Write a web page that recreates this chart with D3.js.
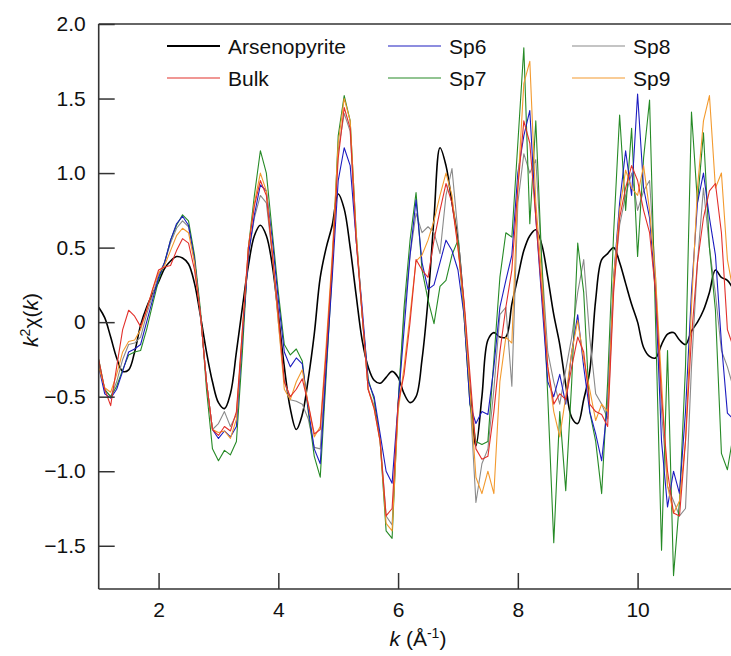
<!DOCTYPE html>
<html><head><meta charset="utf-8">
<script src="https://cdn.jsdelivr.net/npm/d3@7"></script>
<style>
html,body{margin:0;padding:0;background:#fff;}
svg{display:block;font-family:"Liberation Sans",Arial,sans-serif;}
</style></head>
<body><svg id="c" width="731" height="656"></svg>
<script>
const kValues = [1.0,1.1,1.2,1.3,1.4,1.5,1.6,1.7,1.8,1.9,2.0,2.1,2.2,2.3,2.4,2.5,2.6,2.7,2.8,2.9,3.0,3.1,3.2,3.3,3.4,3.5,3.6,3.7,3.8,3.9,4.0,4.1,4.2,4.3,4.4,4.5,4.6,4.7,4.8,4.9,5.0,5.1,5.2,5.3,5.4,5.5,5.6,5.7,5.8,5.9,6.0,6.1,6.2,6.3,6.4,6.5,6.6,6.7,6.8,6.9,7.0,7.1,7.2,7.3,7.4,7.5,7.6,7.7,7.8,7.9,8.0,8.1,8.2,8.3,8.4,8.5,8.6,8.7,8.8,8.9,9.0,9.1,9.2,9.3,9.4,9.5,9.6,9.7,9.8,9.9,10.0,10.1,10.2,10.3,10.4,10.5,10.6,10.7,10.8,10.9,11.0,11.1,11.2,11.3,11.4,11.5,11.6];

const arsenopyrite = [0.10,0.03,-0.10,-0.24,-0.33,-0.32,-0.20,-0.02,0.10,0.19,0.27,0.36,0.41,0.44,0.43,0.39,0.26,0.04,-0.20,-0.40,-0.54,-0.58,-0.48,-0.20,0.10,0.38,0.58,0.65,0.58,0.38,0.05,-0.30,-0.58,-0.72,-0.62,-0.38,-0.08,0.30,0.50,0.65,0.86,0.76,0.50,0.18,-0.12,-0.30,-0.39,-0.41,-0.37,-0.33,-0.37,-0.48,-0.54,-0.50,-0.25,0.15,0.70,1.17,1.05,0.80,0.55,0.10,-0.45,-0.83,-0.50,-0.12,-0.07,-0.10,-0.10,0.12,0.30,0.48,0.58,0.62,0.52,0.30,0.05,-0.15,-0.42,-0.64,-0.68,-0.52,-0.33,0.15,0.42,0.46,0.50,0.40,0.26,0.12,0.00,-0.17,-0.23,-0.24,-0.15,-0.08,-0.07,-0.12,-0.15,-0.06,0.00,0.08,0.20,0.35,0.30,0.28,0.22];

const bulk = [-0.25,-0.45,-0.56,-0.30,-0.05,0.08,0.04,-0.03,0.08,0.22,0.35,0.37,0.38,0.48,0.56,0.53,0.35,0.05,-0.40,-0.72,-0.76,-0.70,-0.73,-0.60,-0.05,0.50,0.78,0.95,0.85,0.45,0.05,-0.40,-0.50,-0.45,-0.38,-0.55,-0.75,-0.72,-0.20,0.40,1.10,1.44,1.30,0.55,0.05,-0.45,-0.58,-0.80,-1.30,-1.25,-0.55,-0.35,0.00,0.42,0.35,0.30,0.55,0.75,0.93,0.80,0.50,0.15,-0.35,-0.85,-0.92,-0.90,-0.60,-0.20,0.10,0.35,0.90,1.35,1.20,0.70,0.20,-0.30,-0.55,-0.48,-0.52,-0.30,-0.10,-0.20,-0.55,-0.60,-0.62,-0.70,0.20,0.70,0.90,1.05,0.95,0.75,0.60,0.20,-0.50,-1.00,-1.28,-1.30,-0.80,-0.10,0.40,0.70,0.88,0.93,0.60,-0.05,-0.17];

const sp6 = [-0.30,-0.48,-0.51,-0.45,-0.33,-0.20,-0.18,-0.15,0.00,0.15,0.30,0.40,0.55,0.66,0.71,0.65,0.42,0.05,-0.40,-0.72,-0.78,-0.73,-0.77,-0.70,-0.10,0.45,0.72,0.92,0.88,0.55,0.15,-0.20,-0.30,-0.24,-0.28,-0.58,-0.85,-0.95,-0.30,0.30,0.95,1.17,1.05,0.55,0.10,-0.40,-0.50,-0.75,-1.00,-1.08,-0.55,-0.05,0.45,0.82,0.40,0.22,0.25,0.40,0.55,0.48,0.35,0.05,-0.55,-0.68,-0.60,-0.62,-0.30,0.10,0.28,0.45,1.00,1.25,1.42,0.70,0.15,-0.40,-0.50,-0.35,-0.55,-0.20,0.05,-0.30,-0.60,-0.75,-0.93,-0.55,0.30,0.80,1.15,0.85,1.53,0.90,0.70,0.20,-0.80,-1.24,-1.00,-1.15,-0.60,0.20,0.80,1.00,0.70,0.45,-0.14,-0.61,-0.65];

const sp7 = [-0.25,-0.45,-0.50,-0.43,-0.32,-0.22,-0.20,-0.19,-0.05,0.12,0.28,0.40,0.55,0.65,0.72,0.68,0.45,0.08,-0.45,-0.85,-0.93,-0.86,-0.89,-0.80,-0.20,0.50,0.85,1.15,1.00,0.60,0.20,-0.15,-0.22,-0.18,-0.26,-0.60,-0.90,-1.04,-0.35,0.35,1.25,1.52,1.35,0.60,0.05,-0.38,-0.52,-0.80,-1.40,-1.45,-0.55,0.10,0.55,0.87,0.35,0.15,-0.01,0.24,0.28,0.45,0.55,0.05,-0.55,-0.80,-0.82,-0.80,-0.25,0.30,0.60,0.57,1.20,1.84,0.66,1.35,0.40,-0.50,-1.48,-0.60,-1.13,-0.40,0.53,0.20,-0.60,-0.80,-1.15,-0.40,0.60,1.39,0.75,1.30,0.44,1.10,1.49,0.00,-1.53,-0.19,-1.70,-1.20,-0.30,1.41,0.80,1.27,0.50,0.08,-0.88,-0.99,-0.75];

const sp8 = [-0.28,-0.46,-0.50,-0.40,-0.25,-0.15,-0.14,-0.10,0.05,0.18,0.32,0.40,0.53,0.63,0.68,0.64,0.42,0.05,-0.40,-0.72,-0.68,-0.60,-0.70,-0.62,-0.10,0.45,0.70,0.85,0.80,0.45,0.00,-0.40,-0.52,-0.53,-0.55,-0.65,-0.84,-0.85,-0.25,0.40,1.15,1.40,1.28,0.55,0.05,-0.45,-0.56,-0.78,-1.30,-1.36,-0.55,0.05,0.45,0.73,0.60,0.64,0.60,0.46,0.85,1.03,0.60,0.10,-0.50,-1.21,-0.95,-0.85,-0.45,0.05,0.10,-0.43,0.80,1.13,1.00,1.09,0.40,-0.20,-0.40,-0.55,-0.32,-0.10,0.20,0.42,-0.10,-0.48,-0.55,-0.65,0.25,0.65,0.85,1.00,0.75,0.88,0.95,0.30,-0.60,-1.10,-1.20,-1.30,-1.25,-0.30,0.40,0.90,0.50,0.19,-0.19,-0.30,-0.44];

const sp9 = [-0.30,-0.44,-0.47,-0.35,-0.20,-0.13,-0.12,-0.05,0.08,0.22,0.33,0.38,0.48,0.58,0.63,0.60,0.40,0.05,-0.40,-0.72,-0.74,-0.73,-0.78,-0.65,-0.05,0.50,0.80,1.00,0.88,0.48,0.00,-0.45,-0.52,-0.40,-0.32,-0.55,-0.77,-0.70,-0.15,0.45,1.20,1.50,1.35,0.60,0.05,-0.45,-0.58,-0.80,-1.35,-1.40,-0.60,-0.30,0.05,0.41,0.45,0.55,0.68,0.85,1.00,0.85,0.50,0.10,-0.45,-1.04,-1.15,-1.00,-1.15,-0.40,-0.10,-0.14,0.90,1.60,1.75,0.80,0.30,-0.30,-0.60,-0.77,-0.50,-0.20,0.01,-0.25,-0.45,-0.66,-0.55,-0.60,0.30,0.75,1.02,0.90,0.85,1.05,0.75,0.30,-0.40,-1.10,-1.28,-1.20,-0.80,0.10,0.90,1.35,1.52,0.90,1.00,0.42,0.20];

const seriesNames = ["Arsenopyrite","Bulk","Sp6","Sp7","Sp8","Sp9"];
const seriesColors = ["#000000","#e2302b","#1c1cc0","#268a26","#8a8a8a","#f39a2e"];
const seriesData = [arsenopyrite,bulk,sp6,sp7,sp8,sp9];
const yTicks = [-1.5,-1.0,-0.5,0,0.5,1.0,1.5,2.0];
const xTicks = [2,4,6,8,10];

const svg = d3.select("#c");
const L = 98.7, R = 731, T = 24, B = 589;
const x = d3.scaleLinear().domain([1.0, 11.56]).range([L, R]);
const y = d3.scaleLinear().domain([-1.79, 2.0]).range([B, T]);

svg.append("defs").append("clipPath").attr("id","clip")
  .append("rect").attr("x",L).attr("y",T).attr("width",R-L).attr("height",B-T);

const plot = svg.append("g").attr("clip-path","url(#clip)");
const smoothLine = d3.line().x((d,i)=>x(kValues[i])).y(d=>y(d)).curve(d3.curveCatmullRom.alpha(0.5));
const rawLine = d3.line().x((d,i)=>x(kValues[i])).y(d=>y(d));
const order = [0,4,3,2,5,1];
order.forEach(si=>{
  plot.append("path").datum(seriesData[si])
    .attr("d", si===0 ? smoothLine : rawLine)
    .attr("fill","none")
    .attr("stroke", seriesColors[si])
    .attr("stroke-width", si===0 ? 1.6 : 1.1)
    .attr("stroke-linejoin","round");
});

// axes
const axisColor = "#333";
const yAxis = d3.axisLeft(y).tickValues(yTicks).tickSizeInner(-16).tickSizeOuter(0)
  .tickPadding(13)
  .tickFormat(d => d===0 ? "0" : d3.format(".1f")(d));
const gy = svg.append("g").attr("transform",`translate(${L},0)`).call(yAxis);
gy.select(".domain").remove();
gy.selectAll(".tick line").attr("stroke",axisColor).attr("stroke-width",1.5);
gy.selectAll(".tick text").attr("font-size",21).attr("fill","#111").attr("x",-13);

const xAxis = d3.axisBottom(x).tickValues(xTicks).tickSizeInner(-16).tickSizeOuter(0)
  .tickPadding(12).tickFormat(d3.format("d"));
const gx = svg.append("g").attr("transform",`translate(0,${B})`).call(xAxis);
gx.select(".domain").remove();
gx.selectAll(".tick line").attr("stroke",axisColor).attr("stroke-width",1.5);
gx.selectAll(".tick text").attr("font-size",21).attr("fill","#111").attr("y",13);

// frame lines
svg.append("line").attr("x1",L).attr("x2",L).attr("y1",T).attr("y2",B).attr("stroke",axisColor).attr("stroke-width",1.6);
svg.append("line").attr("x1",L).attr("x2",R).attr("y1",T).attr("y2",T).attr("stroke",axisColor).attr("stroke-width",1.6);
svg.append("line").attr("x1",L).attr("x2",R).attr("y1",B).attr("y2",B).attr("stroke",axisColor).attr("stroke-width",1.6);

// legend
const legCols = [167, 388, 572];
const legRows = [46, 78];
const legPos = [[0,0],[0,1],[1,0],[1,1],[2,0],[2,1]];
seriesNames.forEach((n,i)=>{
  const cx = legCols[legPos[i][0]], cy = legRows[legPos[i][1]];
  svg.append("line").attr("x1",cx).attr("x2",cx+53).attr("y1",cy).attr("y2",cy)
    .attr("stroke",seriesColors[i]).attr("stroke-width", i===0?1.8:1.2);
  svg.append("text").attr("x",cx+61).attr("y",cy+7.5).attr("font-size",21).attr("fill","#111").text(n);
});

// axis titles
const xt = svg.append("text").attr("x",418).attr("y",646).attr("text-anchor","middle").attr("font-size",21).attr("fill","#111");
xt.append("tspan").attr("font-style","italic").text("k");
xt.append("tspan").text(" (Å");
xt.append("tspan").attr("font-size",14).attr("dy",-8).text("-1");
xt.append("tspan").attr("dy",8).text(")");

const yt = svg.append("text").attr("transform","translate(38,320) rotate(-90)").attr("text-anchor","middle").attr("font-size",21).attr("fill","#111");
yt.append("tspan").attr("font-style","italic").text("k");
yt.append("tspan").attr("font-size",14).attr("dy",-8).text("2");
yt.append("tspan").attr("dy",8).text("χ(");
yt.append("tspan").attr("font-style","italic").text("k");
yt.append("tspan").text(")");
</script>
</body></html>
